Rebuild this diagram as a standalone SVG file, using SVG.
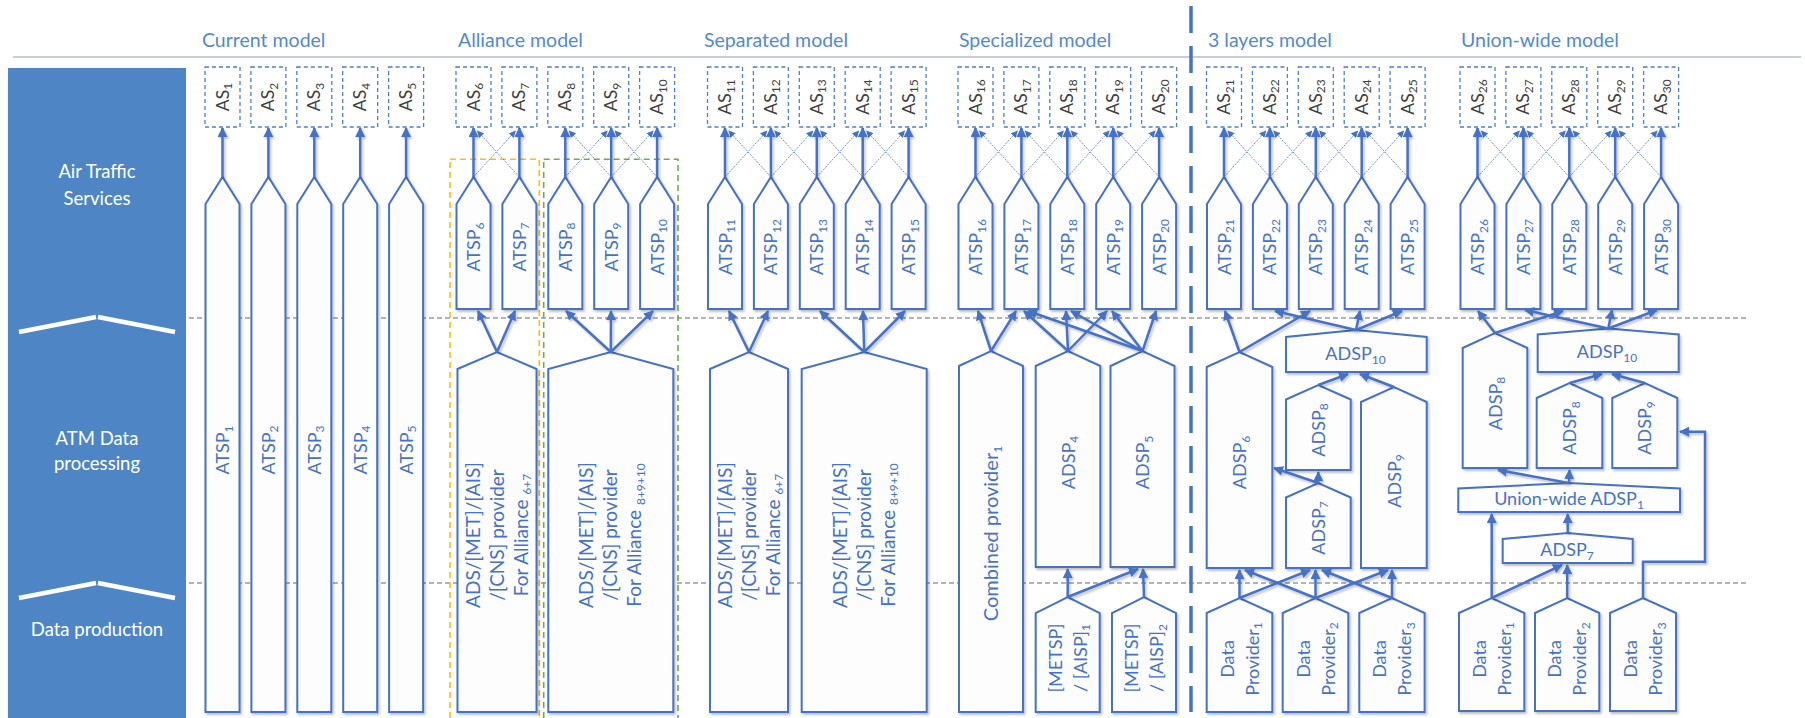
<svg xmlns="http://www.w3.org/2000/svg" width="1805" height="718" viewBox="0 0 1805 718">
<defs>
<style>
text{font-family:Lato,"Open Sans","DejaVu Sans",sans-serif}
.title{font-size:19.5px;fill:#4f8bd0}
.side{font-size:18.5px;fill:#fff;text-anchor:middle}
.box{fill:#fdfdfd;stroke:#4472c4;stroke-width:2;filter:url(#sh)}
.as{fill:#fff;stroke:#4a80cc;stroke-width:1.3;stroke-dasharray:4 3}
.ast{font-size:17.5px;fill:#404040;text-anchor:middle}
.lbl{font-size:18px;fill:#4472c4;text-anchor:middle}
.prov{font-size:19px}
.comb{font-size:20px}
.sub{font-size:12px}
.arr{stroke:#4472c4;stroke-width:2.5;fill:none;marker-end:url(#ah)}
.thin{stroke:#4472c4;stroke-width:0.8;stroke-dasharray:2 1.2;fill:none;marker-end:url(#ahs)}
.grid{stroke:#9a9a9a;stroke-width:1.4;stroke-dasharray:5 3;fill:none}
.chev{stroke:#fff;stroke-width:4.5;fill:none}
</style>
<marker id="ah" viewBox="0 0 10 10" refX="9" refY="5" markerWidth="4" markerHeight="4" orient="auto"><path d="M0,0L10,5L0,10z" fill="#4472c4"/></marker>
<marker id="ahs" viewBox="0 0 10 10" refX="9" refY="5" markerWidth="7" markerHeight="7" markerUnits="userSpaceOnUse" orient="auto"><path d="M0,0L10,5L0,10z" fill="#4472c4"/></marker>
<filter id="sh" x="-20%" y="-20%" width="140%" height="140%"><feDropShadow dx="1.5" dy="2" stdDeviation="1.3" flood-color="#000" flood-opacity="0.25"/></filter>
</defs>

<g id="background">
<line x1="13" y1="57" x2="1801" y2="57" stroke="#c9cdd6" stroke-width="1.8"/>
<rect x="8" y="68" width="178" height="650" fill="#4e86c5"/>
<line class="grid" x1="189" y1="318" x2="1748" y2="318"/>
<line class="grid" x1="189" y1="583" x2="1748" y2="583"/>
<line x1="1191" y1="6" x2="1191" y2="712" stroke="#4472c4" stroke-width="3.5" stroke-dasharray="27 13"/>
<line class="chev" x1="19" y1="332" x2="96" y2="317"/><line class="chev" x1="98" y1="317" x2="175" y2="332"/>
<line class="chev" x1="19" y1="598" x2="96" y2="583"/><line class="chev" x1="98" y1="583" x2="175" y2="598"/>
<text class="side" x="97" y="178">Air Traffic</text>
<text class="side" x="97" y="205">Services</text>
<text class="side" x="97" y="445">ATM Data</text>
<text class="side" x="97" y="470">processing</text>
<text class="side" x="97" y="636">Data production</text>
</g>

<g id="titles">
<text class="title" x="202" y="47">Current model</text>
<text class="title" x="458" y="47">Alliance model</text>
<text class="title" x="704" y="47">Separated model</text>
<text class="title" x="959" y="47">Specialized model</text>
<text class="title" x="1208" y="47">3 layers model</text>
<text class="title" x="1461" y="47">Union-wide model</text>
</g>

<g id="alliance-frames" fill="none" stroke-width="1.6" stroke-dasharray="6 4">
<rect x="450" y="159.3" width="89.3" height="570" stroke="#ffc000"/>
<rect x="543.7" y="159.3" width="134.3" height="570" stroke="#70ad47"/>
</g>

<g id="as-nodes">
<g id="AS1"><rect class="as" x="205" y="67" width="35" height="60"/><text class="ast" transform="translate(222.5,97) rotate(-90)" y="6">AS<tspan class="sub" dy="3.5">1</tspan></text></g>
<g id="AS2"><rect class="as" x="250.9" y="67" width="35" height="60"/><text class="ast" transform="translate(268.4,97) rotate(-90)" y="6">AS<tspan class="sub" dy="3.5">2</tspan></text></g>
<g id="AS3"><rect class="as" x="296.8" y="67" width="35" height="60"/><text class="ast" transform="translate(314.3,97) rotate(-90)" y="6">AS<tspan class="sub" dy="3.5">3</tspan></text></g>
<g id="AS4"><rect class="as" x="342.7" y="67" width="35" height="60"/><text class="ast" transform="translate(360.2,97) rotate(-90)" y="6">AS<tspan class="sub" dy="3.5">4</tspan></text></g>
<g id="AS5"><rect class="as" x="388.6" y="67" width="35" height="60"/><text class="ast" transform="translate(406.1,97) rotate(-90)" y="6">AS<tspan class="sub" dy="3.5">5</tspan></text></g>
<g id="AS6"><rect class="as" x="456" y="67" width="35" height="60"/><text class="ast" transform="translate(473.5,97) rotate(-90)" y="6">AS<tspan class="sub" dy="3.5">6</tspan></text></g>
<g id="AS7"><rect class="as" x="501.9" y="67" width="35" height="60"/><text class="ast" transform="translate(519.4,97) rotate(-90)" y="6">AS<tspan class="sub" dy="3.5">7</tspan></text></g>
<g id="AS8"><rect class="as" x="547.8" y="67" width="35" height="60"/><text class="ast" transform="translate(565.3,97) rotate(-90)" y="6">AS<tspan class="sub" dy="3.5">8</tspan></text></g>
<g id="AS9"><rect class="as" x="593.7" y="67" width="35" height="60"/><text class="ast" transform="translate(611.2,97) rotate(-90)" y="6">AS<tspan class="sub" dy="3.5">9</tspan></text></g>
<g id="AS10"><rect class="as" x="639.6" y="67" width="35" height="60"/><text class="ast" transform="translate(657.1,97) rotate(-90)" y="6">AS<tspan class="sub" dy="3.5">10</tspan></text></g>
<g id="AS11"><rect class="as" x="707.5" y="67" width="35" height="60"/><text class="ast" transform="translate(725,97) rotate(-90)" y="6">AS<tspan class="sub" dy="3.5">11</tspan></text></g>
<g id="AS12"><rect class="as" x="753.4" y="67" width="35" height="60"/><text class="ast" transform="translate(770.9,97) rotate(-90)" y="6">AS<tspan class="sub" dy="3.5">12</tspan></text></g>
<g id="AS13"><rect class="as" x="799.3" y="67" width="35" height="60"/><text class="ast" transform="translate(816.8,97) rotate(-90)" y="6">AS<tspan class="sub" dy="3.5">13</tspan></text></g>
<g id="AS14"><rect class="as" x="845.2" y="67" width="35" height="60"/><text class="ast" transform="translate(862.7,97) rotate(-90)" y="6">AS<tspan class="sub" dy="3.5">14</tspan></text></g>
<g id="AS15"><rect class="as" x="891.1" y="67" width="35" height="60"/><text class="ast" transform="translate(908.6,97) rotate(-90)" y="6">AS<tspan class="sub" dy="3.5">15</tspan></text></g>
<g id="AS16"><rect class="as" x="958" y="67" width="35" height="60"/><text class="ast" transform="translate(975.5,97) rotate(-90)" y="6">AS<tspan class="sub" dy="3.5">16</tspan></text></g>
<g id="AS17"><rect class="as" x="1003.9" y="67" width="35" height="60"/><text class="ast" transform="translate(1021.4,97) rotate(-90)" y="6">AS<tspan class="sub" dy="3.5">17</tspan></text></g>
<g id="AS18"><rect class="as" x="1049.8" y="67" width="35" height="60"/><text class="ast" transform="translate(1067.3,97) rotate(-90)" y="6">AS<tspan class="sub" dy="3.5">18</tspan></text></g>
<g id="AS19"><rect class="as" x="1095.7" y="67" width="35" height="60"/><text class="ast" transform="translate(1113.2,97) rotate(-90)" y="6">AS<tspan class="sub" dy="3.5">19</tspan></text></g>
<g id="AS20"><rect class="as" x="1141.6" y="67" width="35" height="60"/><text class="ast" transform="translate(1159.1,97) rotate(-90)" y="6">AS<tspan class="sub" dy="3.5">20</tspan></text></g>
<g id="AS21"><rect class="as" x="1206.5" y="67" width="35" height="60"/><text class="ast" transform="translate(1224,97) rotate(-90)" y="6">AS<tspan class="sub" dy="3.5">21</tspan></text></g>
<g id="AS22"><rect class="as" x="1252.4" y="67" width="35" height="60"/><text class="ast" transform="translate(1269.9,97) rotate(-90)" y="6">AS<tspan class="sub" dy="3.5">22</tspan></text></g>
<g id="AS23"><rect class="as" x="1298.3" y="67" width="35" height="60"/><text class="ast" transform="translate(1315.8,97) rotate(-90)" y="6">AS<tspan class="sub" dy="3.5">23</tspan></text></g>
<g id="AS24"><rect class="as" x="1344.2" y="67" width="35" height="60"/><text class="ast" transform="translate(1361.7,97) rotate(-90)" y="6">AS<tspan class="sub" dy="3.5">24</tspan></text></g>
<g id="AS25"><rect class="as" x="1390.1" y="67" width="35" height="60"/><text class="ast" transform="translate(1407.6,97) rotate(-90)" y="6">AS<tspan class="sub" dy="3.5">25</tspan></text></g>
<g id="AS26"><rect class="as" x="1460" y="67" width="35" height="60"/><text class="ast" transform="translate(1477.5,97) rotate(-90)" y="6">AS<tspan class="sub" dy="3.5">26</tspan></text></g>
<g id="AS27"><rect class="as" x="1505.9" y="67" width="35" height="60"/><text class="ast" transform="translate(1523.4,97) rotate(-90)" y="6">AS<tspan class="sub" dy="3.5">27</tspan></text></g>
<g id="AS28"><rect class="as" x="1551.8" y="67" width="35" height="60"/><text class="ast" transform="translate(1569.3,97) rotate(-90)" y="6">AS<tspan class="sub" dy="3.5">28</tspan></text></g>
<g id="AS29"><rect class="as" x="1597.7" y="67" width="35" height="60"/><text class="ast" transform="translate(1615.2,97) rotate(-90)" y="6">AS<tspan class="sub" dy="3.5">29</tspan></text></g>
<g id="AS30"><rect class="as" x="1643.6" y="67" width="35" height="60"/><text class="ast" transform="translate(1661.1,97) rotate(-90)" y="6">AS<tspan class="sub" dy="3.5">30</tspan></text></g>
</g>

<g id="atsp-nodes">
<g id="ATSP1"><polygon class="box" points="205.5,712 205.5,204 222.5,177 239.5,204 239.5,712"/><text class="lbl" transform="translate(222.5,450) rotate(-90)" y="6.5">ATSP<tspan class="sub" dy="3.5">1</tspan></text></g>
<g id="ATSP2"><polygon class="box" points="251.4,712 251.4,204 268.4,177 285.4,204 285.4,712"/><text class="lbl" transform="translate(268.4,450) rotate(-90)" y="6.5">ATSP<tspan class="sub" dy="3.5">2</tspan></text></g>
<g id="ATSP3"><polygon class="box" points="297.3,712 297.3,204 314.3,177 331.3,204 331.3,712"/><text class="lbl" transform="translate(314.3,450) rotate(-90)" y="6.5">ATSP<tspan class="sub" dy="3.5">3</tspan></text></g>
<g id="ATSP4"><polygon class="box" points="343.2,712 343.2,204 360.2,177 377.2,204 377.2,712"/><text class="lbl" transform="translate(360.2,450) rotate(-90)" y="6.5">ATSP<tspan class="sub" dy="3.5">4</tspan></text></g>
<g id="ATSP5"><polygon class="box" points="389.1,712 389.1,204 406.1,177 423.1,204 423.1,712"/><text class="lbl" transform="translate(406.1,450) rotate(-90)" y="6.5">ATSP<tspan class="sub" dy="3.5">5</tspan></text></g>
<g id="ATSP6"><polygon class="box" points="456.5,309 456.5,204 473.5,177 490.5,204 490.5,309"/><text class="lbl" transform="translate(473.5,247) rotate(-90)" y="6.5">ATSP<tspan class="sub" dy="3.5">6</tspan></text></g>
<g id="ATSP7"><polygon class="box" points="502.4,309 502.4,204 519.4,177 536.4,204 536.4,309"/><text class="lbl" transform="translate(519.4,247) rotate(-90)" y="6.5">ATSP<tspan class="sub" dy="3.5">7</tspan></text></g>
<g id="ATSP8"><polygon class="box" points="548.3,309 548.3,204 565.3,177 582.3,204 582.3,309"/><text class="lbl" transform="translate(565.3,247) rotate(-90)" y="6.5">ATSP<tspan class="sub" dy="3.5">8</tspan></text></g>
<g id="ATSP9"><polygon class="box" points="594.2,309 594.2,204 611.2,177 628.2,204 628.2,309"/><text class="lbl" transform="translate(611.2,247) rotate(-90)" y="6.5">ATSP<tspan class="sub" dy="3.5">9</tspan></text></g>
<g id="ATSP10"><polygon class="box" points="640.1,309 640.1,204 657.1,177 674.1,204 674.1,309"/><text class="lbl" transform="translate(657.1,247) rotate(-90)" y="6.5">ATSP<tspan class="sub" dy="3.5">10</tspan></text></g>
<g id="ATSP11"><polygon class="box" points="708,309 708,204 725,177 742,204 742,309"/><text class="lbl" transform="translate(725,247) rotate(-90)" y="6.5">ATSP<tspan class="sub" dy="3.5">11</tspan></text></g>
<g id="ATSP12"><polygon class="box" points="753.9,309 753.9,204 770.9,177 787.9,204 787.9,309"/><text class="lbl" transform="translate(770.9,247) rotate(-90)" y="6.5">ATSP<tspan class="sub" dy="3.5">12</tspan></text></g>
<g id="ATSP13"><polygon class="box" points="799.8,309 799.8,204 816.8,177 833.8,204 833.8,309"/><text class="lbl" transform="translate(816.8,247) rotate(-90)" y="6.5">ATSP<tspan class="sub" dy="3.5">13</tspan></text></g>
<g id="ATSP14"><polygon class="box" points="845.7,309 845.7,204 862.7,177 879.7,204 879.7,309"/><text class="lbl" transform="translate(862.7,247) rotate(-90)" y="6.5">ATSP<tspan class="sub" dy="3.5">14</tspan></text></g>
<g id="ATSP15"><polygon class="box" points="891.6,309 891.6,204 908.6,177 925.6,204 925.6,309"/><text class="lbl" transform="translate(908.6,247) rotate(-90)" y="6.5">ATSP<tspan class="sub" dy="3.5">15</tspan></text></g>
<g id="ATSP16"><polygon class="box" points="958.5,309 958.5,204 975.5,177 992.5,204 992.5,309"/><text class="lbl" transform="translate(975.5,247) rotate(-90)" y="6.5">ATSP<tspan class="sub" dy="3.5">16</tspan></text></g>
<g id="ATSP17"><polygon class="box" points="1004.4,309 1004.4,204 1021.4,177 1038.4,204 1038.4,309"/><text class="lbl" transform="translate(1021.4,247) rotate(-90)" y="6.5">ATSP<tspan class="sub" dy="3.5">17</tspan></text></g>
<g id="ATSP18"><polygon class="box" points="1050.3,309 1050.3,204 1067.3,177 1084.3,204 1084.3,309"/><text class="lbl" transform="translate(1067.3,247) rotate(-90)" y="6.5">ATSP<tspan class="sub" dy="3.5">18</tspan></text></g>
<g id="ATSP19"><polygon class="box" points="1096.2,309 1096.2,204 1113.2,177 1130.2,204 1130.2,309"/><text class="lbl" transform="translate(1113.2,247) rotate(-90)" y="6.5">ATSP<tspan class="sub" dy="3.5">19</tspan></text></g>
<g id="ATSP20"><polygon class="box" points="1142.1,309 1142.1,204 1159.1,177 1176.1,204 1176.1,309"/><text class="lbl" transform="translate(1159.1,247) rotate(-90)" y="6.5">ATSP<tspan class="sub" dy="3.5">20</tspan></text></g>
<g id="ATSP21"><polygon class="box" points="1207,309 1207,204 1224,177 1241,204 1241,309"/><text class="lbl" transform="translate(1224,247) rotate(-90)" y="6.5">ATSP<tspan class="sub" dy="3.5">21</tspan></text></g>
<g id="ATSP22"><polygon class="box" points="1252.9,309 1252.9,204 1269.9,177 1286.9,204 1286.9,309"/><text class="lbl" transform="translate(1269.9,247) rotate(-90)" y="6.5">ATSP<tspan class="sub" dy="3.5">22</tspan></text></g>
<g id="ATSP23"><polygon class="box" points="1298.8,309 1298.8,204 1315.8,177 1332.8,204 1332.8,309"/><text class="lbl" transform="translate(1315.8,247) rotate(-90)" y="6.5">ATSP<tspan class="sub" dy="3.5">23</tspan></text></g>
<g id="ATSP24"><polygon class="box" points="1344.7,309 1344.7,204 1361.7,177 1378.7,204 1378.7,309"/><text class="lbl" transform="translate(1361.7,247) rotate(-90)" y="6.5">ATSP<tspan class="sub" dy="3.5">24</tspan></text></g>
<g id="ATSP25"><polygon class="box" points="1390.6,309 1390.6,204 1407.6,177 1424.6,204 1424.6,309"/><text class="lbl" transform="translate(1407.6,247) rotate(-90)" y="6.5">ATSP<tspan class="sub" dy="3.5">25</tspan></text></g>
<g id="ATSP26"><polygon class="box" points="1460.5,309 1460.5,204 1477.5,177 1494.5,204 1494.5,309"/><text class="lbl" transform="translate(1477.5,247) rotate(-90)" y="6.5">ATSP<tspan class="sub" dy="3.5">26</tspan></text></g>
<g id="ATSP27"><polygon class="box" points="1506.4,309 1506.4,204 1523.4,177 1540.4,204 1540.4,309"/><text class="lbl" transform="translate(1523.4,247) rotate(-90)" y="6.5">ATSP<tspan class="sub" dy="3.5">27</tspan></text></g>
<g id="ATSP28"><polygon class="box" points="1552.3,309 1552.3,204 1569.3,177 1586.3,204 1586.3,309"/><text class="lbl" transform="translate(1569.3,247) rotate(-90)" y="6.5">ATSP<tspan class="sub" dy="3.5">28</tspan></text></g>
<g id="ATSP29"><polygon class="box" points="1598.2,309 1598.2,204 1615.2,177 1632.2,204 1632.2,309"/><text class="lbl" transform="translate(1615.2,247) rotate(-90)" y="6.5">ATSP<tspan class="sub" dy="3.5">29</tspan></text></g>
<g id="ATSP30"><polygon class="box" points="1644.1,309 1644.1,204 1661.1,177 1678.1,204 1678.1,309"/><text class="lbl" transform="translate(1661.1,247) rotate(-90)" y="6.5">ATSP<tspan class="sub" dy="3.5">30</tspan></text></g>
</g>

<g id="provider-nodes">
<g id="alliance-provider-6-7"><polygon class="box" points="457.5,712 457.5,369 497,352 536.5,369 536.5,712"/><text class="lbl prov" transform="translate(497,535) rotate(-90)"><tspan x="0" y="-17.5">ADS/[MET]/[AIS]</tspan><tspan x="0" y="6.5">/[CNS] provider</tspan><tspan x="0" y="30.5">For Alliance <tspan class="sub" dy="3.5">6+7</tspan></tspan></text></g>
<g id="alliance-provider-8-9-10"><polygon class="box" points="548.3,712 548.3,369 610.8,352 673.3,369 673.3,712"/><text class="lbl prov" transform="translate(610.8,535) rotate(-90)"><tspan x="0" y="-17.5">ADS/[MET]/[AIS]</tspan><tspan x="0" y="6.5">/[CNS] provider</tspan><tspan x="0" y="30.5">For Alliance <tspan class="sub" dy="3.5">8+9+10</tspan></tspan></text></g>
<g id="separated-provider-6-7"><polygon class="box" points="710,712 710,369 749,352 788,369 788,712"/><text class="lbl prov" transform="translate(749,535) rotate(-90)"><tspan x="0" y="-17.5">ADS/[MET]/[AIS]</tspan><tspan x="0" y="6.5">/[CNS] provider</tspan><tspan x="0" y="30.5">For Alliance <tspan class="sub" dy="3.5">6+7</tspan></tspan></text></g>
<g id="separated-provider-8-9-10"><polygon class="box" points="801.7,712 801.7,369 864.2,352 926.7,369 926.7,712"/><text class="lbl prov" transform="translate(864.2,535) rotate(-90)"><tspan x="0" y="-17.5">ADS/[MET]/[AIS]</tspan><tspan x="0" y="6.5">/[CNS] provider</tspan><tspan x="0" y="30.5">For Alliance <tspan class="sub" dy="3.5">8+9+10</tspan></tspan></text></g>

<g id="combined-provider-1"><polygon class="box" points="959,712 959,366 991,351 1023,366 1023,712"/><text class="lbl comb" transform="translate(991,533.5) rotate(-90)" y="7">Combined provider<tspan class="sub" dy="3.5">1</tspan></text></g>
<g id="spec-ADSP4"><polygon class="box" points="1035.7,567 1035.7,366 1068,351 1100.3,366 1100.3,567"/><text class="lbl" transform="translate(1068,462.5) rotate(-90)" y="6.5">ADSP<tspan class="sub" dy="3.5">4</tspan></text></g>
<g id="spec-ADSP5"><polygon class="box" points="1110.5,567 1110.5,366 1142.5,351 1174.5,366 1174.5,567"/><text class="lbl" transform="translate(1142.5,462.5) rotate(-90)" y="6.5">ADSP<tspan class="sub" dy="3.5">5</tspan></text></g>
<g id="METSP-AISP-1"><polygon class="box" points="1035.7,712 1035.7,613 1067.7,597 1099.7,613 1099.7,712"/><text class="lbl" transform="translate(1067.7,658) rotate(-90)"><tspan x="0" y="-6">[METSP]</tspan><tspan x="0" y="19">/ [AISP]<tspan class="sub" dy="3.5">1</tspan></tspan></text></g>
<g id="METSP-AISP-2"><polygon class="box" points="1112,712 1112,613 1144,597 1176,613 1176,712"/><text class="lbl" transform="translate(1144,658) rotate(-90)"><tspan x="0" y="-6">[METSP]</tspan><tspan x="0" y="19">/ [AISP]<tspan class="sub" dy="3.5">2</tspan></tspan></text></g>

<g id="l3-ADSP6"><polygon class="box" points="1206.7,568 1206.7,367 1239.5,352 1272.3,367 1272.3,568"/><text class="lbl" transform="translate(1239.5,462.5) rotate(-90)" y="6.5">ADSP<tspan class="sub" dy="3.5">6</tspan></text></g>
<g id="l3-ADSP10"><polygon class="box" points="1286,372 1286,337 1356,330 1426.7,337 1426.7,372"/><text class="lbl" x="1355.5" y="360">ADSP<tspan class="sub" dy="3.5">10</tspan></text></g>
<g id="l3-ADSP8"><polygon class="box" points="1286,470 1286,399.5 1318.3,385 1350.7,399.5 1350.7,470"/><text class="lbl" transform="translate(1318.3,430) rotate(-90)" y="6.5">ADSP<tspan class="sub" dy="3.5">8</tspan></text></g>
<g id="l3-ADSP7"><polygon class="box" points="1286,568 1286,497.5 1318.3,483 1350.7,497.5 1350.7,568"/><text class="lbl" transform="translate(1318.3,528) rotate(-90)" y="6.5">ADSP<tspan class="sub" dy="3.5">7</tspan></text></g>
<g id="l3-ADSP9"><polygon class="box" points="1361,568 1361,402 1394,387 1426.7,402 1426.7,568"/><text class="lbl" transform="translate(1394,481) rotate(-90)" y="6.5">ADSP<tspan class="sub" dy="3.5">9</tspan></text></g>
<g id="l3-DP1"><polygon class="box" points="1206.7,712 1206.7,613 1239.5,598 1272.3,613 1272.3,712"/><text class="lbl" transform="translate(1239.5,659) rotate(-90)"><tspan x="0" y="-6">Data</tspan><tspan x="0" y="19">Provider<tspan class="sub" dy="3.5">1</tspan></tspan></text></g>
<g id="l3-DP2"><polygon class="box" points="1282.7,712 1282.7,613 1315.5,598 1348.3,613 1348.3,712"/><text class="lbl" transform="translate(1315.5,659) rotate(-90)"><tspan x="0" y="-6">Data</tspan><tspan x="0" y="19">Provider<tspan class="sub" dy="3.5">2</tspan></tspan></text></g>
<g id="l3-DP3"><polygon class="box" points="1359.3,712 1359.3,613 1392,598 1424.6,613 1424.6,712"/><text class="lbl" transform="translate(1392,659) rotate(-90)"><tspan x="0" y="-6">Data</tspan><tspan x="0" y="19">Provider<tspan class="sub" dy="3.5">3</tspan></tspan></text></g>

<g id="uw-ADSP8-main"><polygon class="box" points="1462.7,468 1462.7,348 1495,333 1527.3,348 1527.3,468"/><text class="lbl" transform="translate(1495,403.5) rotate(-90)" y="6.5">ADSP<tspan class="sub" dy="3.5">8</tspan></text></g>
<g id="uw-ADSP10"><polygon class="box" points="1537.7,372 1537.7,334.5 1608.3,328.5 1678.7,334.5 1678.7,372"/><text class="lbl" x="1607" y="358">ADSP<tspan class="sub" dy="3.5">10</tspan></text></g>
<g id="uw-ADSP8"><polygon class="box" points="1536.7,468 1536.7,398 1569.5,383 1602.3,398 1602.3,468"/><text class="lbl" transform="translate(1569.5,428) rotate(-90)" y="6.5">ADSP<tspan class="sub" dy="3.5">8</tspan></text></g>
<g id="uw-ADSP9"><polygon class="box" points="1612.3,468 1612.3,398 1644.8,383 1677.3,398 1677.3,468"/><text class="lbl" transform="translate(1644.8,428) rotate(-90)" y="6.5">ADSP<tspan class="sub" dy="3.5">9</tspan></text></g>
<g id="uw-union-ADSP1"><polygon class="box" points="1458.3,512 1458.3,488.5 1569,483 1680,488.5 1680,512"/><text class="lbl" x="1569" y="505">Union-wide ADSP<tspan class="sub" dy="3.5">1</tspan></text></g>
<g id="uw-ADSP7"><polygon class="box" points="1502.7,563 1502.7,539 1567.7,533 1632.7,539 1632.7,563"/><text class="lbl" x="1567" y="556">ADSP<tspan class="sub" dy="3.5">7</tspan></text></g>
<g id="uw-DP1"><polygon class="box" points="1459,711 1459,613 1491.7,598 1524.3,613 1524.3,711"/><text class="lbl" transform="translate(1491.7,659) rotate(-90)"><tspan x="0" y="-6">Data</tspan><tspan x="0" y="19">Provider<tspan class="sub" dy="3.5">1</tspan></tspan></text></g>
<g id="uw-DP2"><polygon class="box" points="1535,711 1535,613 1567.2,598 1599.3,613 1599.3,711"/><text class="lbl" transform="translate(1567.2,659) rotate(-90)"><tspan x="0" y="-6">Data</tspan><tspan x="0" y="19">Provider<tspan class="sub" dy="3.5">2</tspan></tspan></text></g>
<g id="uw-DP3"><polygon class="box" points="1610,711 1610,613 1643,598 1676,613 1676,711"/><text class="lbl" transform="translate(1643,659) rotate(-90)"><tspan x="0" y="-6">Data</tspan><tspan x="0" y="19">Provider<tspan class="sub" dy="3.5">3</tspan></tspan></text></g>
</g>

<g id="connectors">
<g id="thin-links">
<line class="thin" x1="473.5" y1="177" x2="515.4" y2="131"/><line class="thin" x1="519.4" y1="177" x2="477.5" y2="131"/>
<line class="thin" x1="565.3" y1="177" x2="607.2" y2="131"/><line class="thin" x1="611.2" y1="177" x2="569.3" y2="131"/>
<line class="thin" x1="611.2" y1="177" x2="653.1" y2="131"/><line class="thin" x1="657.1" y1="177" x2="615.2" y2="131"/>
<line class="thin" x1="725" y1="177" x2="766.9" y2="131"/><line class="thin" x1="770.9" y1="177" x2="729" y2="131"/>
<line class="thin" x1="770.9" y1="177" x2="812.8" y2="131"/><line class="thin" x1="816.8" y1="177" x2="774.9" y2="131"/>
<line class="thin" x1="816.8" y1="177" x2="858.7" y2="131"/><line class="thin" x1="862.7" y1="177" x2="820.8" y2="131"/>
<line class="thin" x1="862.7" y1="177" x2="904.6" y2="131"/><line class="thin" x1="908.6" y1="177" x2="866.7" y2="131"/>
<line class="thin" x1="975.5" y1="177" x2="1017.4" y2="131"/><line class="thin" x1="1021.4" y1="177" x2="979.5" y2="131"/>
<line class="thin" x1="1021.4" y1="177" x2="1063.3" y2="131"/><line class="thin" x1="1067.3" y1="177" x2="1025.4" y2="131"/>
<line class="thin" x1="1067.3" y1="177" x2="1109.2" y2="131"/><line class="thin" x1="1113.2" y1="177" x2="1071.3" y2="131"/>
<line class="thin" x1="1113.2" y1="177" x2="1155.1" y2="131"/><line class="thin" x1="1159.1" y1="177" x2="1117.2" y2="131"/>
<line class="thin" x1="1224" y1="177" x2="1265.9" y2="131"/><line class="thin" x1="1269.9" y1="177" x2="1228" y2="131"/>
<line class="thin" x1="1269.9" y1="177" x2="1311.8" y2="131"/><line class="thin" x1="1315.8" y1="177" x2="1273.9" y2="131"/>
<line class="thin" x1="1315.8" y1="177" x2="1357.7" y2="131"/><line class="thin" x1="1361.7" y1="177" x2="1319.8" y2="131"/>
<line class="thin" x1="1361.7" y1="177" x2="1403.6" y2="131"/><line class="thin" x1="1407.6" y1="177" x2="1365.7" y2="131"/>
<line class="thin" x1="1477.5" y1="177" x2="1519.4" y2="131"/><line class="thin" x1="1523.4" y1="177" x2="1481.5" y2="131"/>
<line class="thin" x1="1523.4" y1="177" x2="1565.3" y2="131"/><line class="thin" x1="1569.3" y1="177" x2="1527.4" y2="131"/>
<line class="thin" x1="1569.3" y1="177" x2="1611.2" y2="131"/><line class="thin" x1="1615.2" y1="177" x2="1573.3" y2="131"/>
<line class="thin" x1="1615.2" y1="177" x2="1657.1" y2="131"/><line class="thin" x1="1661.1" y1="177" x2="1619.2" y2="131"/>
</g>
<g id="thick-links" filter="url(#sh)">
<line class="arr" x1="222.5" y1="177" x2="222.5" y2="128"/>
<line class="arr" x1="268.4" y1="177" x2="268.4" y2="128"/>
<line class="arr" x1="314.3" y1="177" x2="314.3" y2="128"/>
<line class="arr" x1="360.2" y1="177" x2="360.2" y2="128"/>
<line class="arr" x1="406.1" y1="177" x2="406.1" y2="128"/>
<line class="arr" x1="473.5" y1="177" x2="473.5" y2="128"/>
<line class="arr" x1="519.4" y1="177" x2="519.4" y2="128"/>
<line class="arr" x1="565.3" y1="177" x2="565.3" y2="128"/>
<line class="arr" x1="611.2" y1="177" x2="611.2" y2="128"/>
<line class="arr" x1="657.1" y1="177" x2="657.1" y2="128"/>
<line class="arr" x1="725" y1="177" x2="725" y2="128"/>
<line class="arr" x1="770.9" y1="177" x2="770.9" y2="128"/>
<line class="arr" x1="816.8" y1="177" x2="816.8" y2="128"/>
<line class="arr" x1="862.7" y1="177" x2="862.7" y2="128"/>
<line class="arr" x1="908.6" y1="177" x2="908.6" y2="128"/>
<line class="arr" x1="975.5" y1="177" x2="975.5" y2="128"/>
<line class="arr" x1="1021.4" y1="177" x2="1021.4" y2="128"/>
<line class="arr" x1="1067.3" y1="177" x2="1067.3" y2="128"/>
<line class="arr" x1="1113.2" y1="177" x2="1113.2" y2="128"/>
<line class="arr" x1="1159.1" y1="177" x2="1159.1" y2="128"/>
<line class="arr" x1="1224" y1="177" x2="1224" y2="128"/>
<line class="arr" x1="1269.9" y1="177" x2="1269.9" y2="128"/>
<line class="arr" x1="1315.8" y1="177" x2="1315.8" y2="128"/>
<line class="arr" x1="1361.7" y1="177" x2="1361.7" y2="128"/>
<line class="arr" x1="1407.6" y1="177" x2="1407.6" y2="128"/>
<line class="arr" x1="1477.5" y1="177" x2="1477.5" y2="128"/>
<line class="arr" x1="1523.4" y1="177" x2="1523.4" y2="128"/>
<line class="arr" x1="1569.3" y1="177" x2="1569.3" y2="128"/>
<line class="arr" x1="1615.2" y1="177" x2="1615.2" y2="128"/>
<line class="arr" x1="1661.1" y1="177" x2="1661.1" y2="128"/>

<line class="arr" x1="497" y1="352" x2="478" y2="311"/>
<line class="arr" x1="497" y1="352" x2="515" y2="311"/>
<line class="arr" x1="610.8" y1="352" x2="566" y2="311"/>
<line class="arr" x1="610.8" y1="352" x2="611" y2="311"/>
<line class="arr" x1="610.8" y1="352" x2="653" y2="311"/>
<line class="arr" x1="749" y1="352" x2="729" y2="311"/>
<line class="arr" x1="749" y1="352" x2="768" y2="311"/>
<line class="arr" x1="864.2" y1="352" x2="820" y2="311"/>
<line class="arr" x1="864.2" y1="352" x2="863" y2="311"/>
<line class="arr" x1="864.2" y1="352" x2="905" y2="311"/>

<line class="arr" x1="991" y1="351" x2="978" y2="311"/>
<line class="arr" x1="991" y1="351" x2="1016" y2="311"/>
<line class="arr" x1="1068" y1="351" x2="1024" y2="311"/>
<line class="arr" x1="1068" y1="351" x2="1066" y2="311"/>
<line class="arr" x1="1068" y1="351" x2="1107" y2="311"/>
<line class="arr" x1="1142.5" y1="351" x2="1028" y2="311"/>
<line class="arr" x1="1142.5" y1="351" x2="1071" y2="311"/>
<line class="arr" x1="1142.5" y1="351" x2="1112" y2="311"/>
<line class="arr" x1="1142.5" y1="351" x2="1156" y2="311"/>
<line class="arr" x1="1067.7" y1="597" x2="1067.7" y2="569"/>
<line class="arr" x1="1067.7" y1="597" x2="1138" y2="569"/>
<line class="arr" x1="1144" y1="597" x2="1143" y2="569"/>

<line class="arr" x1="1239.5" y1="598" x2="1239.5" y2="570"/>
<line class="arr" x1="1239.5" y1="598" x2="1310" y2="570"/>
<line class="arr" x1="1315.5" y1="598" x2="1245" y2="570"/>
<line class="arr" x1="1315.5" y1="598" x2="1315.5" y2="570"/>
<line class="arr" x1="1315.5" y1="598" x2="1388" y2="570"/>
<line class="arr" x1="1392" y1="598" x2="1322" y2="570"/>
<line class="arr" x1="1392" y1="598" x2="1392" y2="570"/>
<line class="arr" x1="1318.3" y1="483" x2="1318.3" y2="472"/>
<line class="arr" x1="1318.3" y1="483" x2="1274" y2="468"/>
<line class="arr" x1="1318.3" y1="385" x2="1348" y2="374"/>
<line class="arr" x1="1394" y1="387" x2="1360" y2="374"/>
<line class="arr" x1="1239.5" y1="352" x2="1225" y2="311"/>
<line class="arr" x1="1239.5" y1="352" x2="1310" y2="311"/>
<line class="arr" x1="1356" y1="330" x2="1275" y2="311"/>
<line class="arr" x1="1356" y1="330" x2="1360" y2="311"/>
<line class="arr" x1="1356" y1="330" x2="1402" y2="311"/>

<line class="arr" x1="1491.7" y1="598" x2="1491.7" y2="514"/>
<line class="arr" x1="1491.7" y1="598" x2="1562" y2="565"/>
<line class="arr" x1="1567.2" y1="598" x2="1567.2" y2="565"/>
<line class="arr" x1="1567.7" y1="533" x2="1567.7" y2="514"/>
<path class="arr" d="M1643,598 V561.7 H1705 V431.7 H1680"/>
<line class="arr" x1="1569" y1="483" x2="1498" y2="470"/>
<line class="arr" x1="1569" y1="483" x2="1569.5" y2="470"/>
<line class="arr" x1="1569.5" y1="383" x2="1602" y2="374"/>
<line class="arr" x1="1644.8" y1="383" x2="1612" y2="374"/>
<line class="arr" x1="1495" y1="333" x2="1478" y2="311"/>
<line class="arr" x1="1495" y1="333" x2="1563" y2="311"/>
<line class="arr" x1="1608.3" y1="328.5" x2="1525" y2="310"/>
<line class="arr" x1="1608.3" y1="328.5" x2="1612" y2="310"/>
<line class="arr" x1="1608.3" y1="328.5" x2="1657" y2="310"/>
</g>
</g>
</svg>
